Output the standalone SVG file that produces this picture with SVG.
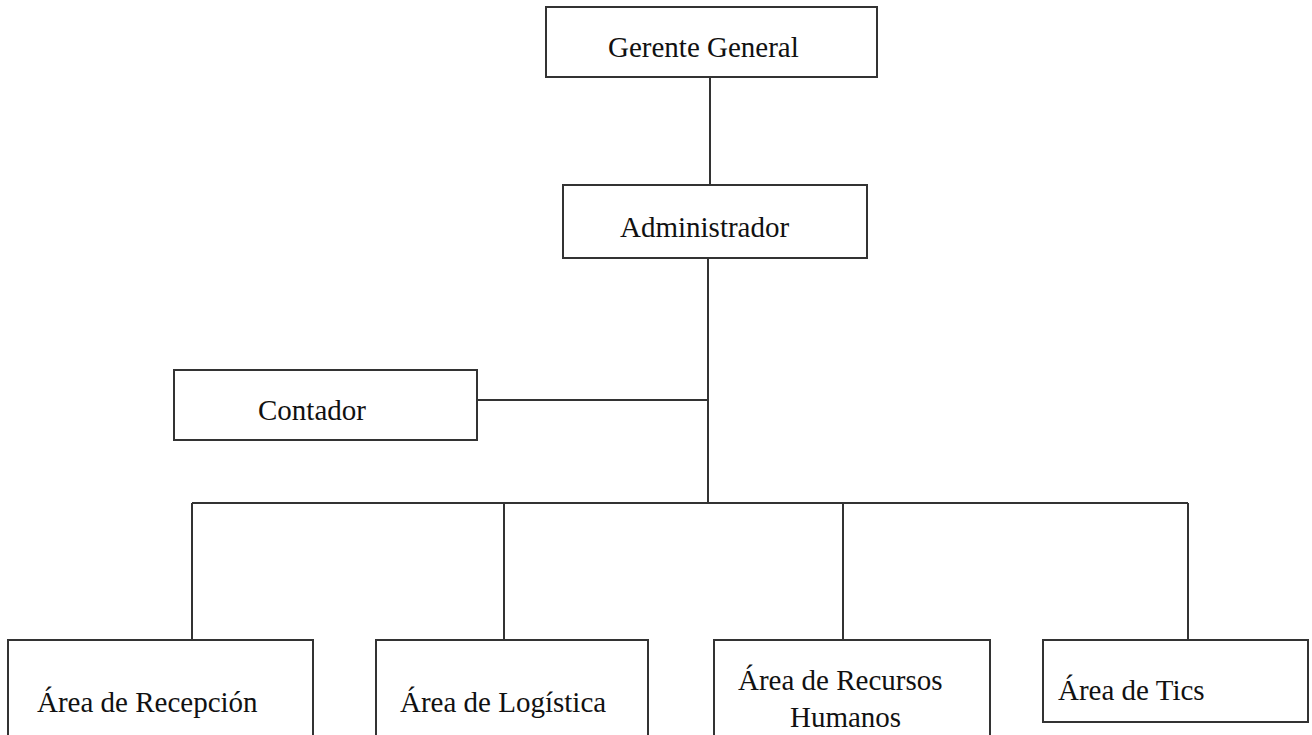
<svg xmlns="http://www.w3.org/2000/svg" width="1312" height="735" viewBox="0 0 1312 735">
<style>
.box{fill:#fff;stroke:#333;stroke-width:2}
.t{font-family:"Liberation Serif","Times New Roman",serif;font-size:29px;fill:#111}
.c{fill:none;stroke:#333;stroke-width:2}
</style>
<rect width="1312" height="735" fill="#fff"/>
<g id="connectors">
<line class="c" x1="710" y1="77" x2="710" y2="185"/>
<line class="c" x1="708" y1="258" x2="708" y2="503"/>
<line class="c" x1="477" y1="400" x2="708" y2="400"/>
<line class="c" x1="192" y1="503" x2="1188" y2="503"/>
<line class="c" x1="192" y1="503" x2="192" y2="640"/>
<line class="c" x1="504" y1="503" x2="504" y2="640"/>
<line class="c" x1="843" y1="503" x2="843" y2="640"/>
<line class="c" x1="1188" y1="503" x2="1188" y2="640"/>
</g>
<g id="gerente">
<rect class="box" x="546" y="7" width="331" height="70"/>
<text class="t" x="608" y="57">Gerente General</text>
</g>
<g id="administrador">
<rect class="box" x="563" y="185" width="304" height="73"/>
<text class="t" x="620" y="237">Administrador</text>
</g>
<g id="contador">
<rect class="box" x="174" y="370" width="303" height="70"/>
<text class="t" x="258" y="420">Contador</text>
</g>
<g id="recepcion">
<rect class="box" x="8" y="640" width="305" height="110"/>
<text class="t" x="37" y="712">Área de Recepción</text>
</g>
<g id="logistica">
<rect class="box" x="376" y="640" width="272" height="110"/>
<text class="t" x="400" y="712">Área de Logística</text>
</g>
<g id="rrhh">
<rect class="box" x="714" y="640" width="276" height="110"/>
<text class="t" x="738" y="690">Área de Recursos</text>
<text class="t" x="790" y="727">Humanos</text>
</g>
<g id="tics">
<rect class="box" x="1043" y="640" width="265" height="82"/>
<text class="t" x="1058" y="700">Área de Tics</text>
</g>
</svg>
